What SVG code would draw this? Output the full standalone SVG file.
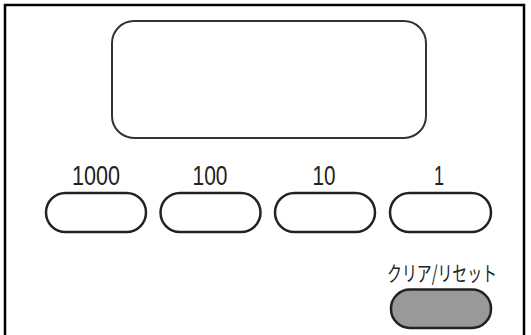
<svg xmlns="http://www.w3.org/2000/svg" width="531" height="335" viewBox="0 0 531 335">
<style>
.btn{fill:#fff;stroke:#222;stroke-width:2.5}
.lbl{font-family:"Liberation Sans",Arial,sans-serif;font-size:27px;fill:#222;text-anchor:middle}
.jp{font-family:"Noto Sans CJK JP",sans-serif;font-size:21px;fill:#222;text-anchor:middle}
</style>
<rect width="531" height="335" fill="#fff"/>
<rect id="frame" x="5" y="5" width="519" height="340" fill="none" stroke="#000" stroke-width="2.5"/>
<g id="display"><rect x="112" y="21" width="314" height="117" rx="22" fill="#fff" stroke="#333" stroke-width="2"/></g>
<g id="btn1000"><text class="lbl" x="96" y="185" textLength="48" lengthAdjust="spacingAndGlyphs">1000</text><rect class="btn" x="46" y="193" width="100" height="39" rx="19.5"/></g>
<g id="btn100"><text class="lbl" x="210" y="185" textLength="35" lengthAdjust="spacingAndGlyphs">100</text><rect class="btn" x="160.5" y="193" width="100" height="39" rx="19.5"/></g>
<g id="btn10"><text class="lbl" x="324" y="185" textLength="23" lengthAdjust="spacingAndGlyphs">10</text><rect class="btn" x="275" y="193" width="100" height="39" rx="19.5"/></g>
<g id="btn1"><text class="lbl" x="439" y="185" textLength="10" lengthAdjust="spacingAndGlyphs">1</text><rect class="btn" x="390" y="193" width="101" height="39" rx="19.5"/></g>
<g id="reset"><text class="jp" x="442" y="281" textLength="110" lengthAdjust="spacingAndGlyphs">クリア/リセット</text><rect x="391" y="289.5" width="100" height="38.5" rx="19" fill="#999" stroke="#222" stroke-width="2.5"/></g>
</svg>
